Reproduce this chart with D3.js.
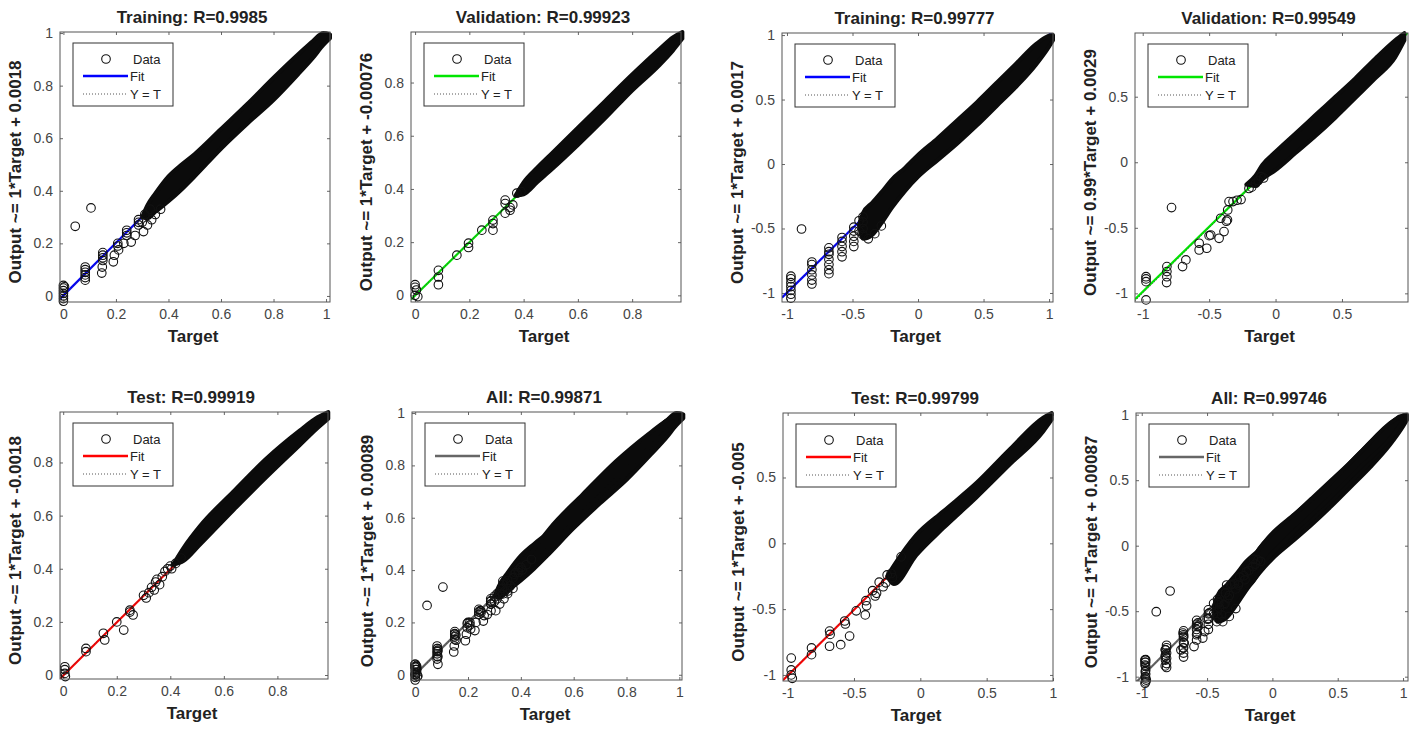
<!DOCTYPE html>
<html>
<head>
<meta charset="utf-8">
<script src="https://cdn.jsdelivr.net/npm/d3@7"></script>
<style>
  body { margin: 0; background: #fff; }
  text { font-family: "Liberation Sans", Arial, sans-serif; }
</style>
</head>
<body>
<div id="chart"></div>
<script>
// panel texts and fits, in drawing order (row 1 then row 2)
var titles = ["Training: R=0.9985", "Validation: R=0.99923", "Training: R=0.99777", "Validation: R=0.99549",
              "Test: R=0.99919", "All: R=0.99871", "Test: R=0.99799", "All: R=0.99746"];
var yLabels = ["Output ~= 1*Target + 0.0018", "Output ~= 1*Target + -0.00076",
               "Output ~= 1*Target + 0.0017", "Output ~= 0.99*Target + 0.0029",
               "Output ~= 1*Target + -0.0018", "Output ~= 1*Target + 0.00089",
               "Output ~= 1*Target + -0.005", "Output ~= 1*Target + 0.00087"];
var fitSlope = [1, 1, 1, 0.99, 1, 1, 1, 1];
var fitIntercept = [0.0018, -0.00076, 0.0017, 0.0029, -0.0018, 0.00089, -0.005, 0.00087];
var fitColors = ["#0000ff", "#00e600", "#0000ff", "#00e600", "#ff0000", "#666666", "#ff0000", "#666666"];

// axis limits
var xDomains = [[-0.013, 1.015], [-0.015, 0.98], [-1.038, 1.03], [-1.058, 0.997],
                [-0.012, 0.989], [-0.012, 1.01], [-1.035, 1.0], [-1.044, 1.038]];
var yDomains = [[-0.023, 1.004], [-0.025, 0.99], [-1.07, 1.016], [-1.066, 0.986],
                [-0.015, 0.99], [-0.02, 1.004], [-1.046, 0.99], [-1.033, 1.013]];
var ticksA = [0, 0.2, 0.4, 0.6, 0.8, 1];
var ticksB = [-1, -0.5, 0, 0.5, 1];

// dense part of each scatter: [target, lowest output, highest output]
var bandTrainA = [[0.30, 0.30, 0.30], [0.32, 0.295, 0.345], [0.35, 0.32, 0.39], [0.40, 0.36, 0.455],
  [0.45, 0.405, 0.50], [0.50, 0.455, 0.54], [0.60, 0.56, 0.635], [0.70, 0.655, 0.73],
  [0.80, 0.745, 0.83], [0.90, 0.85, 0.925], [0.95, 0.905, 0.97], [0.99, 0.955, 1.0], [1.015, 0.98, 0.995]];
var bandValA = [[0.37, 0.375, 0.375], [0.40, 0.38, 0.425], [0.45, 0.425, 0.48], [0.50, 0.47, 0.53],
  [0.60, 0.565, 0.63], [0.70, 0.665, 0.73], [0.80, 0.77, 0.83], [0.90, 0.865, 0.925],
  [0.95, 0.92, 0.97], [0.985, 0.965, 0.99]];
var bandTestA = [[0.41, 0.415, 0.415], [0.45, 0.43, 0.48], [0.51, 0.49, 0.56], [0.635, 0.62, 0.69],
  [0.759, 0.745, 0.815], [0.883, 0.865, 0.92], [0.95, 0.93, 0.97], [0.99, 0.965, 0.99]];
var bandTrainB = [[-0.45, -0.47, -0.47], [-0.42, -0.58, -0.38], [-0.35, -0.55, -0.30], [-0.28, -0.46, -0.22],
  [-0.2, -0.34, -0.12], [-0.1, -0.21, -0.03], [0.0, -0.10, 0.07], [0.15, 0.03, 0.20], [0.3, 0.16, 0.34],
  [0.45, 0.30, 0.48], [0.6, 0.45, 0.63], [0.75, 0.60, 0.78], [0.9, 0.77, 0.93], [1.0, 0.91, 0.995],
  [1.03, 0.96, 1.0]];
var bandValB = [[-0.22, -0.17, -0.17], [-0.15, -0.18, -0.1], [-0.1, -0.13, -0.02], [0.0, -0.06, 0.08],
  [0.15, 0.07, 0.22], [0.3, 0.2, 0.36], [0.45, 0.34, 0.5], [0.6, 0.49, 0.64], [0.75, 0.64, 0.79],
  [0.9, 0.8, 0.93], [0.97, 0.93, 0.985]];
var bandTestB = [[-0.25, -0.25, -0.25], [-0.2, -0.31, -0.17], [-0.03, -0.09, 0.064], [0.173, 0.115, 0.243],
  [0.424, 0.35, 0.46], [0.675, 0.6, 0.715], [0.926, 0.85, 0.955], [0.99, 0.94, 0.99]];

// single circles outside the dense part: [target, output]
var ptsTrainA = [[0, 0.04], [0, 0.03], [0, 0.02], [0, 0.01], [0, 0], [0, -0.01], [0, -0.02], [0.004, 0.035],
  [0.045, 0.265], [0.105, 0.335],
  [0.083, 0.11], [0.083, 0.1], [0.083, 0.09], [0.083, 0.08], [0.083, 0.07], [0.083, 0.06],
  [0.15, 0.165], [0.15, 0.155], [0.15, 0.145], [0.15, 0.135], [0.146, 0.087], [0.148, 0.11],
  [0.19, 0.13], [0.194, 0.155], [0.207, 0.2], [0.207, 0.19], [0.21, 0.175],
  [0.23, 0.2], [0.258, 0.205], [0.273, 0.23], [0.241, 0.25], [0.241, 0.24], [0.241, 0.23],
  [0.286, 0.29], [0.286, 0.28], [0.286, 0.27], [0.305, 0.245], [0.336, 0.29], [0.32, 0.27], [0.35, 0.31],
  [0.31, 0.31], [0.33, 0.33], [0.30, 0.28], [0.37, 0.33]];
var ptsValA = [[0, 0.04], [0, 0.03], [0.005, 0.02], [0, 0.0], [0.01, -0.005],
  [0.086, 0.094], [0.086, 0.069], [0.086, 0.04],
  [0.154, 0.151], [0.197, 0.196], [0.197, 0.18], [0.246, 0.245], [0.287, 0.283], [0.287, 0.27], [0.287, 0.245],
  [0.332, 0.358], [0.332, 0.345], [0.332, 0.309], [0.35, 0.33], [0.35, 0.32], [0.36, 0.34], [0.375, 0.384], [0.39, 0.39]];
var ptsTestA = [[0.006, 0.031], [0.006, 0.02], [0.006, 0.006], [0.008, -0.006],
  [0.085, 0.1], [0.085, 0.088], [0.15, 0.157], [0.155, 0.132], [0.2, 0.2], [0.226, 0.169],
  [0.249, 0.244], [0.249, 0.237], [0.261, 0.226],
  [0.30, 0.30], [0.31, 0.29], [0.32, 0.31], [0.33, 0.33], [0.34, 0.32], [0.345, 0.35], [0.35, 0.36],
  [0.36, 0.34], [0.37, 0.37], [0.38, 0.39], [0.39, 0.40], [0.40, 0.41], [0.405, 0.40], [0.42, 0.42], [0.44, 0.44]];
var ptsTrainB = [[-0.889, -0.504],
  [-0.97, -0.87], [-0.97, -0.89], [-0.97, -0.92], [-0.97, -0.95], [-0.97, -0.98], [-0.97, -1.01], [-0.97, -1.04],
  [-0.81, -0.76], [-0.81, -0.78], [-0.81, -0.82], [-0.81, -0.86], [-0.81, -0.9], [-0.81, -0.93],
  [-0.68, -0.65], [-0.68, -0.68], [-0.68, -0.7], [-0.68, -0.74], [-0.68, -0.78], [-0.68, -0.82], [-0.68, -0.85],
  [-0.58, -0.57], [-0.58, -0.6], [-0.58, -0.64], [-0.58, -0.68], [-0.58, -0.72],
  [-0.49, -0.49], [-0.49, -0.52], [-0.49, -0.56], [-0.49, -0.6], [-0.49, -0.64],
  [-0.42, -0.41], [-0.42, -0.45], [-0.42, -0.5], [-0.42, -0.55], [-0.45, -0.44], [-0.45, -0.52],
  [-0.38, -0.58], [-0.33, -0.54], [-0.28, -0.48]];
var ptsValB = [[-0.975, -0.873], [-0.975, -0.911], [-0.975, -0.89], [-0.975, -1.05],
  [-0.818, -0.796], [-0.818, -0.834], [-0.818, -0.873], [-0.82, -0.918],
  [-0.783, -0.346],
  [-0.7, -0.796], [-0.675, -0.745],
  [-0.575, -0.618], [-0.575, -0.669], [-0.518, -0.656], [-0.488, -0.555], [-0.5, -0.56],
  [-0.425, -0.58], [-0.388, -0.529], [-0.413, -0.427], [-0.362, -0.44], [-0.36, -0.364], [-0.37, -0.45],
  [-0.35, -0.3], [-0.32, -0.3], [-0.29, -0.29], [-0.26, -0.285],
  [-0.15, -0.16], [-0.13, -0.14], [-0.11, -0.11], [-0.09, -0.12], [-0.18, -0.19], [-0.2, -0.2]];
var ptsTestB = [[-0.973, -0.872], [-0.973, -0.962], [-0.973, -1.0], [-0.965, -1.026],
  [-0.82, -0.795], [-0.82, -0.846],
  [-0.684, -0.782], [-0.684, -0.667], [-0.68, -0.692],
  [-0.6, -0.77], [-0.533, -0.705], [-0.57, -0.59], [-0.565, -0.613],
  [-0.483, -0.513], [-0.415, -0.544], [-0.41, -0.436], [-0.405, -0.475],
  [-0.36, -0.36], [-0.34, -0.4], [-0.33, -0.38],
  [-0.31, -0.295], [-0.28, -0.33], [-0.22, -0.23], [-0.21, -0.26], [-0.145, -0.103],
  [-0.25, -0.24], [-0.26, -0.3]];

// which subsets go in each panel ("All" = the three together)
var panelBands = [[bandTrainA], [bandValA], [bandTrainB], [bandValB],
                  [bandTestA], [bandTrainA, bandValA, bandTestA], [bandTestB], [bandTrainB, bandValB, bandTestB]];
var panelPts = [[ptsTrainA], [ptsValA], [ptsTrainB], [ptsValB],
                [ptsTestA], [ptsTrainA, ptsValA, ptsTestA], [ptsTestB], [ptsTrainB, ptsValB, ptsTestB]];
var panelTicks = [ticksA, ticksA, ticksB, ticksB, ticksA, ticksA, ticksB, ticksB];

// plot boxes in pixels
var boxLeft = [60, 411, 782, 1135, 60, 412, 783, 1136];
var boxTop = [32, 32, 33, 33, 412, 412, 413, 413];
var boxW = [270, 270, 271, 273, 268, 270, 270, 272];
var boxH = [270, 270, 269, 269, 267, 268, 268, 268];

var svg = d3.select("#chart").append("svg")
    .attr("width", 1418)
    .attr("height", 730);

svg.append("rect").attr("width", 1418).attr("height", 730).attr("fill", "#fff");

var fmt = function(d) { return String(d); };

titles.forEach(function(title, i) {
  var w = boxW[i], h = boxH[i];
  var x = d3.scaleLinear().domain(xDomains[i]).range([0, w]);
  var y = d3.scaleLinear().domain(yDomains[i]).range([h, 0]);
  var xt = panelTicks[i].filter(function(t) { return t >= xDomains[i][0] && t <= xDomains[i][1]; });
  var yt = panelTicks[i].filter(function(t) { return t >= yDomains[i][0] && t <= yDomains[i][1]; });

  var g = svg.append("g")
      .attr("transform", "translate(" + boxLeft[i] + "," + boxTop[i] + ")");

  g.append("clipPath").attr("id", "clip" + i)
    .append("rect").attr("width", w).attr("height", h);

  // axes, ticks pointing inwards on all four sides
  var ax = [
    d3.axisBottom(x).tickValues(xt).tickFormat(fmt).tickSize(-3).tickPadding(7),
    d3.axisLeft(y).tickValues(yt).tickFormat(fmt).tickSize(-3).tickPadding(7),
    d3.axisTop(x).tickValues(xt).tickFormat("").tickSize(-3),
    d3.axisRight(y).tickValues(yt).tickFormat("").tickSize(-3)
  ];
  var shift = ["translate(0," + h + ")", null, null, "translate(" + w + ",0)"];
  ax.forEach(function(a, k) {
    var ga = g.append("g").attr("transform", shift[k]).call(a);
    ga.select(".domain").remove();
    ga.selectAll("line").attr("stroke", "#666");
    ga.selectAll("text").attr("fill", "#444").style("font-size", "14px")
      .style("font-family", '"Liberation Sans", Arial, sans-serif');
  });

  // fit line and Y = T
  var lo = xDomains[i][0], hi = xDomains[i][1];
  var lines = g.append("g").attr("clip-path", "url(#clip" + i + ")");
  lines.append("line")
      .attr("x1", x(lo)).attr("y1", y(fitSlope[i] * lo + fitIntercept[i]))
      .attr("x2", x(hi)).attr("y2", y(fitSlope[i] * hi + fitIntercept[i]))
      .attr("stroke", fitColors[i]).attr("stroke-width", 2.2);
  lines.append("line")
      .attr("x1", x(lo)).attr("y1", y(lo))
      .attr("x2", x(hi)).attr("y2", y(hi))
      .attr("stroke", "#444").attr("stroke-width", 1).attr("stroke-dasharray", "1,2");

  // dense bands of overlapping circles
  var area = d3.area()
      .x(function(d) { return x(d[0]); })
      .y0(function(d) { return y(d[1]); })
      .y1(function(d) { return y(d[2]); })
      .curve(d3.curveMonotoneX);
  panelBands[i].forEach(function(band) {
    g.append("path")
        .datum(band)
        .attr("d", area)
        .attr("fill", "#0b0b0b")
        .attr("stroke", "#0b0b0b")
        .attr("stroke-width", 4)
        .attr("stroke-linejoin", "round");
  });

  // loose circles
  panelPts[i].forEach(function(pts) {
    g.selectAll(null)
      .data(pts)
      .enter().append("circle")
        .attr("cx", function(d) { return x(d[0]); })
        .attr("cy", function(d) { return y(d[1]); })
        .attr("r", 4.3)
        .attr("fill", "none")
        .attr("stroke", "#111")
        .attr("stroke-width", 1.1);
  });

  // box
  g.append("rect")
      .attr("width", w).attr("height", h)
      .attr("fill", "none").attr("stroke", "#555").attr("stroke-width", 1);

  // title and labels
  g.append("text")
      .attr("x", w / 2 - 3).attr("y", -9)
      .attr("text-anchor", "middle")
      .style("font-size", "17px").style("font-weight", "bold").attr("fill", "#222")
      .text(title);
  g.append("text")
      .attr("x", w / 2 - 2).attr("y", h + 40)
      .attr("text-anchor", "middle")
      .style("font-size", "17px").style("font-weight", "bold").attr("fill", "#222")
      .text("Target");
  g.append("text")
      .attr("transform", "translate(-39," + (h / 2 + 5) + ") rotate(-90)")
      .attr("text-anchor", "middle")
      .style("font-size", "17px").style("font-weight", "bold").attr("fill", "#222")
      .text(yLabels[i]);

  // legend
  var lg = g.append("g").attr("transform", "translate(13,11)");
  lg.append("rect").attr("width", 100).attr("height", 63)
      .attr("fill", "#fff").attr("stroke", "#333").attr("stroke-width", 1);
  lg.append("circle").attr("cx", 33).attr("cy", 16).attr("r", 4.3)
      .attr("fill", "none").attr("stroke", "#111").attr("stroke-width", 1.1);
  lg.append("line").attr("x1", 10).attr("x2", 55).attr("y1", 33).attr("y2", 33)
      .attr("stroke", fitColors[i]).attr("stroke-width", 2.5);
  lg.append("line").attr("x1", 10).attr("x2", 55).attr("y1", 51).attr("y2", 51)
      .attr("stroke", "#555").attr("stroke-width", 1).attr("stroke-dasharray", "1,2");
  var items = [["Data", 60, 20.5], ["Fit", 57, 37.5], ["Y = T", 57, 55.5]];
  items.forEach(function(it) {
    lg.append("text").attr("x", it[1]).attr("y", it[2])
        .style("font-size", "13px").attr("fill", "#222").text(it[0]);
  });
});
</script>
</body>
</html>
